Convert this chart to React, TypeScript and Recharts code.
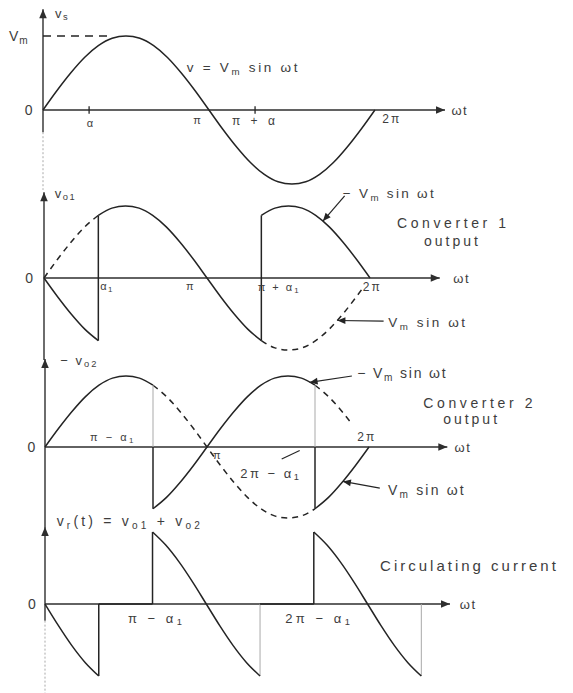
import React from 'react';
import { LineChart, Line, XAxis, YAxis, ReferenceLine, ReferenceDot } from 'recharts';

type Pt = [number, number];

// ---------- waveform samples: [ωt in degrees, voltage in units of Vm] ----------
const supplyWave: Pt[] = [
  [0, 0], [15, 0.26], [30, 0.5], [45, 0.71], [60, 0.87], [75, 0.97], [90, 1], [105, 0.97],
  [120, 0.87], [135, 0.71], [150, 0.5], [165, 0.26], [180, 0], [195, -0.26], [210, -0.5],
  [225, -0.71], [240, -0.87], [255, -0.97], [270, -1], [285, -0.97], [300, -0.87],
  [315, -0.71], [330, -0.5], [345, -0.26], [360, 0],
];

const conv1Solid: Pt[] = [
  [0, 0], [15, -0.26], [30, -0.5], [45, -0.71], [60, -0.87], [60, 0.87], [75, 0.97], [90, 1],
  [105, 0.97], [120, 0.87], [135, 0.71], [150, 0.5], [165, 0.26], [180, 0], [195, -0.26],
  [210, -0.5], [225, -0.71], [240, -0.87], [240, 0.87], [255, 0.97], [270, 1], [285, 0.97],
  [300, 0.87], [315, 0.71], [330, 0.5], [345, 0.26], [360, 0],
];
const conv1Dashed: Pt[][] = [
  [[0, 0], [15, 0.26], [30, 0.5], [45, 0.71], [60, 0.87]],
  [[240, -0.87], [255, -0.97], [270, -1], [285, -0.97], [300, -0.87], [315, -0.71],
    [330, -0.5], [345, -0.26], [352, -0.14]],
];

const conv2Solid: Pt[] = [
  [0, 0], [15, 0.26], [30, 0.5], [45, 0.71], [60, 0.87], [75, 0.97], [90, 1], [105, 0.97],
  [120, 0.87], [120, -0.87], [135, -0.71], [150, -0.5], [165, -0.26], [180, 0], [195, 0.26],
  [210, 0.5], [225, 0.71], [240, 0.87], [255, 0.97], [270, 1], [285, 0.97], [300, 0.87],
  [300, -0.87], [315, -0.71], [330, -0.5], [345, -0.26], [360, 0],
];
const conv2Dashed: Pt[][] = [
  [[120, 0.87], [135, 0.71], [150, 0.5], [165, 0.26], [180, 0], [195, -0.26], [210, -0.5],
    [225, -0.71], [240, -0.87], [255, -0.97], [270, -1], [285, -0.97], [300, -0.87]],
  [[300, 0.87], [315, 0.71], [330, 0.5], [340, 0.34]],
];

const circulating: Pt[][] = [
  [[0, 0], [15, -0.52], [30, -1], [45, -1.41], [60, -1.73], [60, 0], [120, 0], [120, 1.73],
    [135, 1.41], [150, 1], [165, 0.52], [180, 0], [195, -0.52], [210, -1], [225, -1.41], [240, -1.73]],
  [[240, 0], [300, 0], [300, 1.73], [315, 1.41], [330, 1], [345, 0.52], [360, 0], [375, -0.52],
    [390, -1], [405, -1.41], [420, -1.73]],
];
const circulatingDrops: Pt[][] = [
  [[240, -1.73], [240, 0]],
  [[420, -1.73], [420, 0]],
];

// firing-angle tick marks on the supply axis (degrees)
const supplyTicks = [50, 230];

// ---------- labels ----------
type Lbl = { t: string; x: number; y: number; size?: number; anchor?: 'start' | 'middle' | 'end'; sp?: number };

const supplyLabels: Lbl[] = [
  { t: 'v_s', x: 13, y: 1.31, sp: 1.5 },
  { t: 'V_m', x: -37, y: 1.0, size: 14, sp: 1 },
  { t: '0', x: -15.5, y: 0, anchor: 'middle', size: 14, sp: 0 },
  { t: 'α', x: 51, y: -0.17, anchor: 'middle', size: 11, sp: 0 },
  { t: 'π', x: 167, y: -0.14, anchor: 'middle', size: 11, sp: 0 },
  { t: 'π + α', x: 205, y: -0.15, size: 12, sp: 3.5 },
  { t: '2π', x: 368, y: -0.12, size: 12, sp: 2 },
  { t: 'ωt', x: 443, y: 0, sp: 1.5 },
  { t: 'v = V_m sin ωt', x: 156, y: 0.58, size: 13.5, sp: 2.7 },
];

const conv1Labels: Lbl[] = [
  { t: 'v_o1', x: 12, y: 1.18, sp: 1.5 },
  { t: '0', x: -16.5, y: 0, anchor: 'middle', size: 14, sp: 0 },
  { t: 'α_1', x: 62, y: -0.11, size: 11, sp: 1.5 },
  { t: 'π', x: 161, y: -0.11, anchor: 'middle', size: 11, sp: 0 },
  { t: 'π + α_1', x: 236, y: -0.125, size: 11, sp: 2 },
  { t: '2π', x: 352, y: -0.125, size: 12, sp: 2 },
  { t: 'ωt', x: 452, y: 0, sp: 1.5 },
  { t: '− V_m sin ωt', x: 330, y: 1.18, size: 13.5, sp: 2.3 },
  { t: 'Converter 1', x: 452, y: 0.76, anchor: 'middle', size: 14, sp: 3.6 },
  { t: 'output', x: 451, y: 0.51, anchor: 'middle', size: 14, sp: 3 },
  { t: 'V_m sin ωt', x: 380, y: -0.61, size: 13.5, sp: 2.6 },
];
const conv1Leaders: Pt[][] = [
  [[332, 1.14], [308, 0.79]],
  [[375, -0.6], [324, -0.59]],
];

const conv2Labels: Lbl[] = [
  { t: '− v_o2', x: 17, y: 1.23, sp: 2 },
  { t: '0', x: -15, y: 0, anchor: 'middle', size: 14, sp: 0 },
  { t: 'π − α_1', x: 50, y: 0.14, size: 11, sp: 2.5 },
  { t: 'π', x: 191, y: -0.11, anchor: 'middle', size: 11, sp: 0 },
  { t: '2π − α_1', x: 217, y: -0.37, size: 13, sp: 2.5 },
  { t: '2π', x: 347, y: 0.14, size: 12, sp: 2 },
  { t: 'ωt', x: 455, y: 0, sp: 1.5 },
  { t: '− V_m sin ωt', x: 347, y: 1.04, size: 14, sp: 1.8 },
  { t: 'Converter 2', x: 483, y: 0.62, anchor: 'middle', size: 14, sp: 3.6 },
  { t: 'output', x: 474, y: 0.39, anchor: 'middle', size: 14, sp: 3 },
  { t: 'V_m sin ωt', x: 381, y: -0.6, size: 14, sp: 2.2 },
];
const conv2Leaders: Pt[][] = [
  [[341, 1.0], [294, 0.91]],
  [[372, -0.58], [331, -0.485]],
];
const conv2Pointers: Pt[][] = [[[263, -0.17], [283, -0.05]]];

const circLabels: Lbl[] = [
  { t: 'v_r(t) = v_o1 + v_o2', x: 13, y: 2.0, size: 14, sp: 3.2 },
  { t: '0', x: -14.5, y: 0, anchor: 'middle', size: 14, sp: 0 },
  { t: 'π − α_1', x: 92.5, y: -0.34, size: 13, sp: 3.5 },
  { t: '2π − α_1', x: 268, y: -0.34, size: 13, sp: 3.5 },
  { t: 'ωt', x: 463, y: 0, sp: 1.5 },
  { t: 'Circulating current', x: 374, y: 0.94, size: 15, sp: 3 },
];

// ---------- layout ----------
const W = 573;
const H = 693;
type Panel = { x0: number; pxPerDeg: number; zeroY: number; unit: number };
const P1: Panel = { x0: 43, pxPerDeg: 0.922, zeroY: 110, unit: 74 };
const P2: Panel = { x0: 44, pxPerDeg: 0.9056, zeroY: 278, unit: 72 };
const P3: Panel = { x0: 45, pxPerDeg: 0.9, zeroY: 447, unit: 71 };
const P4: Panel = { x0: 45, pxPerDeg: 0.896, zeroY: 604, unit: 41.6 };

const INK = '#242424';
const FAINT = '#a9a9a9';
const TEXT = '#3d3d3d';
const FONT = '"Liberation Sans", Arial, Helvetica, sans-serif';

const toRows = (pts: Pt[]) => pts.map(([x, y]) => ({ x, y }));

function arrowShape(size: number, head: boolean, color: string, width: number, dash?: string) {
  return (p: any) => {
    const { x1, y1, x2, y2 } = p;
    const a = Math.atan2(y2 - y1, x2 - x1);
    const bx = x2 - size * Math.cos(a);
    const by = y2 - size * Math.sin(a);
    const hw = size * 0.42;
    const pts = `${x2},${y2} ${bx + hw * Math.sin(a)},${by - hw * Math.cos(a)} ${bx - hw * Math.sin(a)},${by + hw * Math.cos(a)}`;
    return (
      <g>
        <line x1={x1} y1={y1} x2={x2} y2={y2} stroke={color} strokeWidth={width} strokeDasharray={dash} />
        {head && <polygon points={pts} fill={color} />}
      </g>
    );
  };
}

function textShape(l: Lbl) {
  const size = l.size ?? 13;
  return (p: any) => {
    const { cx, cy } = p;
    const parts = l.t.split(/(_[A-Za-z0-9]+)/).filter((s) => s.length > 0);
    let inSub = false;
    const spans = parts.map((s, i) => {
      if (s[0] === '_') {
        inSub = true;
        return (
          <tspan key={i} dy={size * 0.3} fontSize={size * 0.72}>
            {s.slice(1)}
          </tspan>
        );
      }
      const dy = inSub ? -size * 0.3 : 0;
      inSub = false;
      return (
        <tspan key={i} dy={dy}>
          {s}
        </tspan>
      );
    });
    return (
      <text
        x={cx}
        y={cy}
        fontSize={size}
        fontFamily={FONT}
        fill={TEXT}
        textAnchor={l.anchor ?? 'start'}
        dominantBaseline="central"
        letterSpacing={l.sp ?? 2}
      >
        {spans}
      </text>
    );
  };
}

function labels(list: Lbl[], key: string) {
  return list.map((l, i) => (
    <ReferenceDot key={`${key}-l${i}`} x={l.x} y={l.y} r={0} ifOverflow="visible" shape={textShape(l)} />
  ));
}

function segLine(pts: Pt[], key: string, shape: any) {
  return (
    <ReferenceLine
      key={key}
      segment={[{ x: pts[0][0], y: pts[0][1] }, { x: pts[1][0], y: pts[1][1] }]}
      ifOverflow="visible"
      shape={shape}
    />
  );
}

function curve(pts: Pt[], key: string, dashed: boolean, type: 'monotone' | 'linear', color = INK, width = 1.5) {
  return (
    <Line
      key={key}
      data={toRows(pts)}
      dataKey="y"
      type={type}
      stroke={color}
      strokeWidth={width}
      strokeDasharray={dashed ? '6 5' : undefined}
      dot={false}
      activeDot={false}
      isAnimationActive={false}
      legendType="none"
    />
  );
}

// Smooth pieces between switching instants, straight vertical jumps at them.
function wave(pts: Pt[], key: string, dashed = false, faintUpperJumps = false) {
  const pieces: Pt[][] = [];
  const jumps: Pt[][] = [];
  let cur: Pt[] = [];
  pts.forEach((pt, i) => {
    const prev = pts[i - 1];
    if (prev && prev[0] === pt[0]) {
      if (cur.length > 1) pieces.push(cur);
      jumps.push([prev, pt]);
      cur = [pt];
    } else {
      cur.push(pt);
    }
  });
  if (cur.length > 1) pieces.push(cur);
  const out: React.ReactNode[] = pieces.map((pc, i) => curve(pc, `${key}-p${i}`, dashed, 'monotone'));
  jumps.forEach((j, i) => {
    if (faintUpperJumps && j[0][1] * j[1][1] < 0) {
      const x = j[0][0];
      const upper = j[0][1] > 0 ? j[0] : j[1];
      const lower = j[0][1] > 0 ? j[1] : j[0];
      out.push(curve([upper, [x, 0]], `${key}-ju${i}`, false, 'linear', FAINT, 1));
      out.push(curve([[x, 0], lower], `${key}-jl${i}`, false, 'linear'));
    } else {
      out.push(curve(j, `${key}-j${i}`, dashed, 'linear'));
    }
  });
  return out;
}

function axes(key: string, xEnd: number, yTop: number, yBottom: number, faintFrom?: number, faintTo?: number) {
  const out: React.ReactNode[] = [
    segLine([[0, 0], [xEnd, 0]], `${key}-ax`, arrowShape(9, true, '#2e2e2e', 1.4)),
    segLine([[0, yBottom], [0, yTop]], `${key}-ay`, arrowShape(9, true, '#2e2e2e', 1.4)),
  ];
  if (faintFrom !== undefined && faintTo !== undefined) {
    out.push(segLine([[0, faintFrom], [0, faintTo]], `${key}-af`, arrowShape(0, false, FAINT, 1, '2 2')));
  }
  return out;
}

function PanelChart({ p, children }: { p: Panel; children: React.ReactNode }) {
  const xd = [-p.x0 / p.pxPerDeg, (W - p.x0) / p.pxPerDeg];
  const yd = [-(H - p.zeroY) / p.unit, p.zeroY / p.unit];
  return (
    <div style={{ position: 'absolute', left: 0, top: 0 }}>
      <LineChart width={W} height={H} margin={{ top: 0, right: 0, bottom: 0, left: 0 }}>
        <XAxis type="number" dataKey="x" domain={xd} hide allowDataOverflow />
        <YAxis type="number" domain={yd} hide allowDataOverflow />
        {children}
      </LineChart>
    </div>
  );
}

export default function App() {
  return (
    <div style={{ position: 'absolute', left: 0, top: 0, width: W, height: H, background: '#fff', overflow: 'hidden' }}>
      {/* supply voltage */}
      <PanelChart p={P1}>
        {axes('p1', 436, 1.36, -0.3, -0.3, -1.08)}
        {segLine([[0, 1], [75, 1]], 'p1-vm', arrowShape(0, false, INK, 1.3, '8 6'))}
        {supplyTicks.map((d, i) => segLine([[d, 0.05], [d, -0.05]], `p1-t${i}`, arrowShape(0, false, INK, 1.3)))}
        {wave(supplyWave, 'p1-w')}
        {labels(supplyLabels, 'p1')}
      </PanelChart>

      {/* converter 1 output */}
      <PanelChart p={P2}>
        {axes('p2', 437, 1.19, -1.14)}
        {conv1Dashed.flatMap((d, i) => wave(d, `p2-d${i}`, true))}
        {wave(conv1Solid, 'p2-w')}
        {conv1Leaders.map((l, i) => segLine(l, `p2-ld${i}`, arrowShape(8, true, INK, 1.2)))}
        {labels(conv1Labels, 'p2')}
      </PanelChart>

      {/* converter 2 output */}
      <PanelChart p={P3}>
        {axes('p3', 447, 1.24, -1.13)}
        {conv2Dashed.flatMap((d, i) => wave(d, `p3-d${i}`, true))}
        {wave(conv2Solid, 'p3-w', false, true)}
        {conv2Leaders.map((l, i) => segLine(l, `p3-ld${i}`, arrowShape(8, true, INK, 1.2)))}
        {conv2Pointers.map((l, i) => segLine(l, `p3-pt${i}`, arrowShape(0, false, INK, 1.1)))}
        {labels(conv2Labels, 'p3')}
      </PanelChart>

      {/* circulating voltage */}
      <PanelChart p={P4}>
        {axes('p4', 452, 1.85, -0.4, -0.4, -2.14)}
        {circulatingDrops.flatMap((d, i) => [curve(d, `p4-dr${i}`, false, 'linear', FAINT, 1)])}
        {circulating.flatMap((c, i) => wave(c, `p4-w${i}`))}
        {labels(circLabels, 'p4')}
      </PanelChart>
    </div>
  );
}
